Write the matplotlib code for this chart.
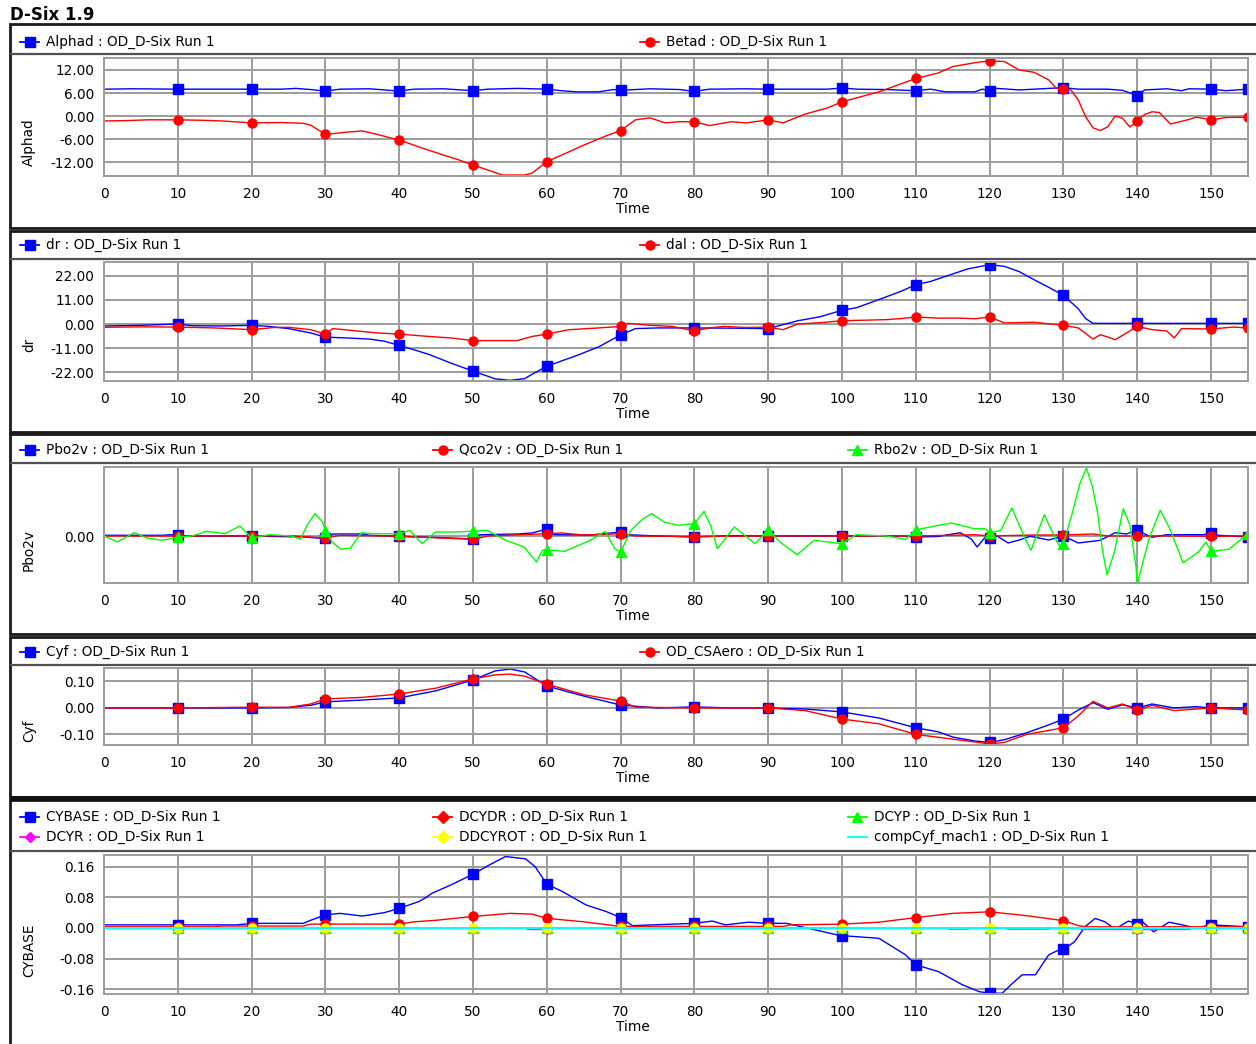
import numpy as np
import matplotlib
matplotlib.use("Agg")
import matplotlib.pyplot as plt
from matplotlib.lines import Line2D
from matplotlib.patches import Rectangle

W, H = 1256, 1044
RUN = " : OD_D-Six Run 1"

# ---- data: (time, value) pairs per channel ----
ALPHAD = [(0, 7.0), (4, 7.1), (10, 7.0), (20, 7.0), (24, 7.0), (26, 7.2), (28, 6.9), (30, 6.5),
          (32, 7.0), (36, 7.1), (38, 6.8), (40, 6.5), (42, 7.0), (46, 7.1), (50, 6.6), (52, 7.0),
          (56, 7.2), (60, 7.0), (62, 6.6), (64, 6.3), (67, 6.3), (69, 6.9), (70, 6.7), (74, 7.1),
          (78, 6.9), (80, 6.4), (82, 7.0), (87, 7.1), (90, 7.0), (94, 7.0), (98, 7.0), (100, 7.3),
          (102, 7.0), (106, 6.9), (110, 6.6), (112, 7.0), (114, 6.3), (118, 6.3), (119, 7.0),
          (120, 6.6), (121, 7.2), (124, 6.8), (128, 7.2), (130, 7.4), (132, 7.0), (136, 7.0),
          (138, 6.7), (140, 5.3), (141, 6.8), (144, 7.1), (146, 6.6), (147, 7.1), (150, 7.0),
          (152, 6.6), (155, 7.0)]
BETAD = [(0, -1.3), (3, -1.2), (6, -1.0), (10, -1.0), (13, -1.1), (16, -1.3), (20, -1.8), (24, -1.7),
         (27, -1.9), (28, -2.4), (29, -3.6), (30, -4.7), (31, -4.6), (33, -4.2), (35, -3.9), (37, -4.8),
         (40, -6.3), (42, -7.6), (43, -8.3), (46, -10.2), (48, -11.4), (50, -12.8), (52, -14.1),
         (54, -15.4), (57, -15.4), (58, -14.9), (60, -11.9), (62, -10.2), (65, -7.6), (68, -5.2),
         (70, -3.8), (72, -1.0), (74, -0.5), (76, -1.8), (78, -1.5), (80, -1.5), (82, -2.5), (85, -1.5),
         (87, -1.8), (90, -1.0), (92, -1.8), (95, 0.5), (98, 2.1), (100, 3.7), (105, 6.3), (110, 9.8),
         (113, 11.2), (115, 12.9), (118, 13.9), (120, 14.4), (122, 14.2), (124, 12.0), (126, 11.4),
         (128, 9.4), (129, 7.3), (130, 7.0), (131, 6.8), (132, 4.2), (133, -0.2), (134, -3.1),
         (135, -3.8), (136, -2.8), (137, 0.0), (138, -0.6), (139, -2.9), (140, -1.2), (141, 0.4),
         (142, 1.1), (143, 0.9), (144.5, -2.1), (147, -0.9), (148, -0.3), (150, -1.0), (152, -0.4),
         (155, -0.3)]

DR = [(0, -0.9), (5, -0.6), (10, 0.0), (12, -0.8), (16, -0.9), (20, -0.6), (22, -1.0), (25, -2.1),
      (28, -4.1), (30, -6.0), (33, -6.4), (36, -6.9), (38, -7.9), (40, -9.8), (42, -11.8), (44, -13.9),
      (47, -17.9), (50, -21.6), (53, -25.1), (55, -25.8), (57, -25.0), (58, -23.0), (60, -19.4),
      (62, -16.9), (64, -14.5), (67, -10.5), (70, -5.0), (72, -2.1), (75, -1.8), (80, -1.8), (85, -1.9),
      (90, -2.1), (92, -0.3), (94, 1.5), (97, 3.3), (100, 6.3), (102, 7.5), (105, 11.2), (108, 15.0),
      (110, 18.0), (112, 19.5), (114, 21.8), (117, 25.2), (120, 27.2), (122, 26.4), (124, 24.0),
      (126, 20.3), (128, 16.8), (130, 13.1), (132, 7.0), (133, 2.5), (134, 0.3), (140, 0.3),
      (150, 0.3), (155, 0.3)]
DAL = [(0, -1.5), (5, -1.3), (10, -1.4), (15, -1.8), (20, -2.6), (23, -1.6), (25, -1.5), (28, -2.6),
       (30, -4.6), (31, -2.1), (34, -3.1), (37, -4.1), (40, -4.6), (44, -5.7), (47, -6.4), (50, -7.6),
       (56, -7.6), (58, -5.7), (60, -4.6), (63, -2.6), (67, -1.8), (70, -1.1), (71, 0.3), (74, -0.6),
       (77, -1.1), (80, -3.2), (82, -1.8), (84, -1.1), (87, -1.6), (90, -1.4), (92, -2.6), (94, 0.0),
       (97, 0.6), (100, 1.5), (106, 2.0), (108, 2.5), (110, 3.2), (113, 2.7), (116, 2.7), (118, 2.4),
       (120, 3.2), (122, 0.5), (126, 0.8), (130, -0.6), (132, -1.8), (134, -6.9), (135, -4.9),
       (136, -6.0), (137, -7.2), (138, -5.2), (140, -1.1), (142, -2.6), (144, -3.2), (145, -6.4),
       (146, -2.1), (150, -2.3), (153, -1.4), (155, -1.8)]

PBO2V = [(0, 0.007), (8, 0.007), (9, 0.013), (10, 0.01), (11, 0.0), (20, 0.0), (27, -0.01), (29, -0.02),
         (30, -0.02), (31, 0.02), (35, 0.02), (36, 0.007), (40, -0.003), (47, -0.02), (50, -0.03),
         (51, 0.013), (56, 0.02), (58, 0.03), (60, 0.07), (61, 0.013), (66, 0.01), (70, 0.04),
         (71, 0.013), (75, 0.0), (80, -0.01), (85, 0.003), (90, 0.0), (95, 0.0), (100, 0.0), (108, 0.0),
         (110, -0.01), (113, -0.005), (116, 0.033), (117.5, -0.03), (118.3, -0.11), (119.3, -0.02),
         (120, -0.02), (121, 0.0), (122.5, -0.07), (124, -0.04), (125.5, -0.003), (128, -0.04),
         (130, 0.0), (132, -0.07), (135, -0.043), (137, 0.033), (138.5, 0.02), (140, 0.057),
         (141, 0.02), (142, -0.013), (143, 0.0), (144, 0.013), (149, 0.013), (150, 0.03), (151, 0.007),
         (155, -0.01)]
QCO2V = [(0, 0.0), (10, 0.0), (20, 0.0), (25, 0.003), (30, -0.02), (32, 0.007), (40, -0.003),
         (50, -0.033), (52, 0.0), (60, 0.023), (62, 0.03), (65, 0.01), (70, 0.023), (72, 0.0),
         (80, -0.005), (90, 0.0), (100, 0.0), (110, 0.0), (118, 0.013), (120, 0.0), (126, 0.01),
         (130, 0.01), (134, 0.02), (136, 0.0), (140, 0.0), (145, 0.0), (150, -0.003), (155, 0.0)]
RBO2V = [(0, 0.0), (1.8, -0.06), (4.1, 0.033), (5.8, -0.02), (7.8, -0.043), (10, -0.013), (11.9, 0.0),
         (13.9, 0.047), (16.4, 0.023), (18.4, 0.1), (20, -0.02), (22.4, 0.013), (25.4, 0.0),
         (26.6, -0.033), (27.6, 0.12), (28.6, 0.223), (29.6, 0.14), (30, 0.05), (30.9, -0.06),
         (32.1, -0.133), (33.4, -0.12), (34.9, 0.033), (36.4, 0.023), (38.4, 0.023), (40, 0.023),
         (41.4, 0.057), (43.1, -0.077), (44.9, 0.04), (47.4, 0.04), (50, 0.047), (51.9, 0.057),
         (54.4, -0.043), (56.9, -0.11), (58.6, -0.26), (59.4, -0.143), (60, -0.14), (62.4, -0.153),
         (65.9, -0.043), (67.9, 0.047), (69.2, -0.127), (70, -0.16), (71.4, 0.057), (73, 0.17),
         (74.2, 0.223), (75.9, 0.14), (77.8, 0.107), (80, 0.123), (81.3, 0.247), (82.2, 0.1),
         (83.1, -0.127), (85.4, 0.09), (88.2, -0.077), (90, 0.057), (91.6, -0.06), (93.9, -0.187),
         (96.2, -0.043), (100, -0.077), (101.9, 0.013), (106, 0.0), (108.6, -0.033), (110, 0.06),
         (111.2, 0.08), (114.8, 0.13), (117.9, 0.073), (119.4, 0.073), (120, 0.033), (121.5, 0.057),
         (123, 0.28), (124.8, -0.027), (125.6, -0.143), (127.4, 0.213), (128.9, -0.027),
         (129.7, -0.133), (130, -0.077), (131.3, 0.257), (132.2, 0.52), (133.1, 0.68), (133.9, 0.5),
         (134.6, 0.24), (135.3, -0.15), (135.9, -0.387), (136.9, -0.16), (138.1, 0.273), (139, 0.107),
         (139.8, -0.293), (140, -0.477), (141.6, -0.027), (143.1, 0.257), (144.4, 0.073),
         (146.2, -0.267), (148.3, -0.16), (149.3, -0.06), (150, -0.153), (152.4, -0.133),
         (155, 0.023)]

CYF = [(0, 0.0), (10, 0.0), (20, 0.0), (25, 0.002), (28, 0.01), (30, 0.023), (35, 0.03), (40, 0.038),
       (45, 0.065), (50, 0.106), (53, 0.14), (55, 0.147), (57, 0.136), (60, 0.083), (63, 0.06),
       (65, 0.045), (70, 0.011), (75, 0.0), (80, 0.004), (85, 0.0), (90, 0.0), (95, -0.004),
       (100, -0.015), (105, -0.038), (110, -0.075), (113, -0.09), (115, -0.11), (118, -0.125),
       (120, -0.13), (122, -0.12), (125, -0.094), (128, -0.064), (130, -0.042), (132, -0.008),
       (134, 0.02), (136, -0.005), (138, 0.012), (140, 0.0), (142, 0.015), (145, 0.0), (148, 0.005),
       (150, 0.0), (155, 0.0)]
CSAERO = [(0, 0.0), (10, 0.0), (20, 0.003), (25, 0.002), (28, 0.015), (30, 0.034), (35, 0.04),
          (40, 0.053), (45, 0.075), (50, 0.11), (53, 0.125), (55, 0.128), (57, 0.12), (60, 0.09),
          (65, 0.05), (70, 0.026), (72, 0.003), (80, 0.0), (90, 0.0), (95, -0.01), (100, -0.042),
          (105, -0.06), (110, -0.1), (115, -0.118), (120, -0.136), (122, -0.13), (125, -0.1),
          (130, -0.075), (132, -0.03), (134, 0.025), (136, 0.0), (138, 0.015), (140, -0.008),
          (142, 0.01), (145, -0.01), (150, 0.0), (155, -0.008)]

CYBASE = [(0, 0.008), (10, 0.008), (18, 0.008), (20, 0.012), (27, 0.012), (28, 0.02), (30, 0.034),
          (32, 0.038), (35, 0.031), (38, 0.04), (40, 0.051), (42.7, 0.069), (43.6, 0.079), (44.4, 0.09),
          (47, 0.112), (50, 0.14), (52.2, 0.164), (54.4, 0.186), (57.1, 0.18), (58.4, 0.16), (60, 0.114),
          (62.1, 0.095), (65.3, 0.06), (68, 0.043), (70, 0.027), (71.6, 0.006), (74.3, 0.008),
          (80, 0.012), (82.4, 0.018), (84.2, 0.008), (87.3, 0.015), (90, 0.012), (92.5, 0.012),
          (95.2, 0.0), (99.3, -0.018), (100, -0.02), (105, -0.027), (108.6, -0.07), (110, -0.096),
          (113.1, -0.114), (116.3, -0.148), (118.6, -0.166), (120, -0.17), (121.7, -0.17),
          (123.1, -0.144), (124.4, -0.122), (126.2, -0.122), (128, -0.07), (129.4, -0.057),
          (130, -0.056), (131.5, -0.036), (132.9, 0.003), (134.3, 0.025), (135.6, 0.016), (137, -0.003),
          (138.8, 0.018), (140, 0.01), (140.6, 0.018), (142.2, -0.01), (144.3, 0.015), (146.1, 0.008),
          (147.9, 0.0), (150, 0.008), (155, 0.003)]
DCYDR = [(0, 0.003), (10, 0.003), (15, 0.003), (16, 0.005), (20, 0.005), (27, 0.005), (28, 0.01),
         (30, 0.01), (40, 0.01), (42, 0.016), (45, 0.02), (50, 0.03), (55, 0.038), (58, 0.036),
         (60, 0.025), (65, 0.016), (70, 0.004), (80, 0.004), (90, 0.004), (92, 0.004), (93, 0.008),
         (100, 0.01), (105, 0.015), (110, 0.027), (115, 0.038), (120, 0.042), (125, 0.032), (130, 0.019),
         (132, 0.006), (133, 0.003), (140, 0.003), (150, 0.003), (155, 0.003)]
DCYR = [(0, 0.0), (10, 0.0), (20, 0.0), (30, 0.0), (40, 0.0), (50, 0.0), (57, 0.0), (57.5, -0.004),
        (60, -0.004), (60.5, 0.0), (70, 0.0), (80, 0.0), (90, 0.0), (100, 0.0), (110, 0.0), (114, 0.0),
        (114.5, -0.003), (117, -0.003), (117.5, 0.0), (120, 0.0), (122, 0.0), (122.5, -0.003),
        (128, -0.003), (128.5, 0.0), (130, 0.0), (132, 0.0), (132.5, -0.004), (140, -0.004),
        (147, -0.004), (147.5, 0.0), (150, 0.0), (155, 0.0)]
DECADES = [0, 10, 20, 30, 40, 50, 60, 70, 80, 90, 100, 110, 120, 130, 140, 150, 155]
DCYP = [0.0] * len(DECADES)
DDCYROT = [0.0] * len(DECADES)
COMPCYF = [0.0] * len(DECADES)

BLUE, RED, GREEN = "#0000ff", "#ff0000", "#00ff00"
MAGENTA, YELLOW, CYAN = "#ff00ff", "#ffff00", "#00ffff"
GRID = "#9c9c9c"

plt.rcParams["font.family"] = "DejaVu Sans"
plt.rcParams["font.size"] = 9.8

fig = plt.figure(figsize=(W / 100, H / 100), dpi=100)
fig.patch.set_facecolor("white")


def fx(x):
    return x / W


def fy(y):
    return 1 - y / H


def marks(t):
    return [i for i, v in enumerate(t) if (v > 0 and v % 10 == 0) or v == t[-1]]


def series(ax, pairs, color, marker, ms=7):
    t, v = np.array(pairs).T
    ax.plot(t, v, color=color, lw=1.0, marker=marker, ms=ms, mec=color, mfc=color,
            markevery=marks(list(t)))


def flat(ax, values, color, marker, ms=7, lw=1.0):
    ax.plot(DECADES, values, color=color, lw=lw, marker=marker, ms=ms, mec=color, mfc=color,
            markevery=marks(DECADES) if marker else None)


def panel(top, bottom, sep):
    fig.add_artist(Rectangle((fx(10), fy(bottom)), fx(1270 - 10), (bottom - top) / H,
                             transform=fig.transFigure, fc="white", ec="#1a1a1a", lw=2, zorder=0))
    fig.add_artist(Line2D([fx(11), fx(1256)], [fy(sep)] * 2, color="#505050", lw=1.6,
                          transform=fig.transFigure))


def key(x, y, color, marker, label, ms=6.5):
    fig.add_artist(Line2D([fx(x), fx(x + 19)], [fy(y)] * 2, color=color, lw=1.3,
                          transform=fig.transFigure))
    if marker:
        fig.add_artist(Line2D([fx(x + 9.5)], [fy(y)], marker=marker, ms=ms, color=color,
                              mec=color, transform=fig.transFigure))
    fig.text(fx(x + 26), fy(y), label, va="center", ha="left", fontsize=9.8)


def make_axes(top, bottom, ylim, yticks, yfmt, ylabel, label_y):
    left, right = 104, 1248
    ax = fig.add_axes([fx(left), fy(bottom), (right - left) / W, (bottom - top) / H])
    ax.set_xlim(0, 155)
    ax.set_ylim(*ylim)
    ax.set_xticks(range(0, 151, 10))
    ax.set_yticks(yticks)
    ax.set_yticklabels([yfmt.format(v) for v in yticks])
    ax.grid(True, color=GRID, lw=1.4)
    ax.set_axisbelow(True)
    for s in ax.spines.values():
        s.set_color(GRID)
        s.set_linewidth(1.4)
    ax.tick_params(length=0, pad=8, labelsize=9.8)
    ax.tick_params(axis="y", pad=7)
    h = bottom - top
    ax.set_xlabel("Time", fontsize=9.8)
    ax.xaxis.set_label_coords((633 - left) / (right - left), -(bottom + 26 - top) / h + 1)
    ax.set_ylabel(ylabel, fontsize=9.8)
    ax.yaxis.set_label_coords((36 - left) / (right - left), 1 - (label_y - top) / h)
    return ax


fig.text(fx(10), fy(15), "D-Six 1.9", fontsize=12, weight="bold", va="center", ha="left")

# panel frames and separators under the key rows
panel(24, 228, 54)
panel(231, 432, 259)
panel(434, 634, 463)
panel(637, 797, 665)
panel(800, 1050, 851)
fig.add_artist(Rectangle((fx(10), fy(801)), fx(1260), 5 / H, transform=fig.transFigure,
                         fc="#101010", ec="none"))

# Alphad / Betad
ax = make_axes(58, 176, (-15.65, 15.13), [12, 6, 0, -6, -12], "{:.2f}", "Alphad", 142)
series(ax, ALPHAD, BLUE, "s")
series(ax, BETAD, RED, "o", 6.5)
key(20, 41.5, BLUE, "s", "Alphad" + RUN)
key(640, 41.5, RED, "o", "Betad" + RUN)

# dr / dal
ax = make_axes(262, 381, (-26.1, 28.4), [22, 11, 0, -11, -22], "{:.2f}", "dr", 345)
series(ax, DR, BLUE, "s")
series(ax, DAL, RED, "o", 6.5)
key(20, 245, BLUE, "s", "dr" + RUN)
key(640, 245, RED, "o", "dal" + RUN)

# Pbo2v / Qco2v / Rbo2v
ax = make_axes(467, 583, (-0.47, 0.69), [0], "{:.2f}", "Pbo2v", 550)
series(ax, PBO2V, BLUE, "s")
series(ax, QCO2V, RED, "o", 6.5)
series(ax, RBO2V, GREEN, "^")
key(20, 450, BLUE, "s", "Pbo2v" + RUN)
key(433, 450, RED, "o", "Qco2v" + RUN)
key(848, 450, GREEN, "^", "Rbo2v" + RUN)

# Cyf / OD_CSAero
ax = make_axes(668, 745, (-0.140, 0.151), [0.1, 0.0, -0.1], "{:.2f}", "Cyf", 731)
series(ax, CYF, BLUE, "s")
series(ax, CSAERO, RED, "o", 6.5)
key(20, 652, BLUE, "s", "Cyf" + RUN)
key(640, 652, RED, "o", "OD_CSAero" + RUN)

# side-force build-up
ax = make_axes(855, 994, (-0.172, 0.19), [0.16, 0.08, 0.0, -0.08, -0.16], "{:.2f}", "CYBASE", 950)
series(ax, CYBASE, BLUE, "s")
series(ax, DCYDR, RED, "o", 6.5)
flat(ax, DCYP, GREEN, "^")
series(ax, DCYR, MAGENTA, "D", 5.5)
flat(ax, DDCYROT, YELLOW, "o", 6.5)
flat(ax, COMPCYF, CYAN, None, lw=1.5)
key(20, 817, BLUE, "s", "CYBASE" + RUN)
key(433, 817, RED, "D", "DCYDR" + RUN)
key(848, 817, GREEN, "^", "DCYP" + RUN)
key(20, 837, MAGENTA, "D", "DCYR" + RUN, 5)
key(433, 837, YELLOW, "D", "DDCYROT" + RUN)
key(848, 837, CYAN, None, "compCyf_mach1" + RUN)

fig.savefig("out.png", dpi=100, facecolor="white")
